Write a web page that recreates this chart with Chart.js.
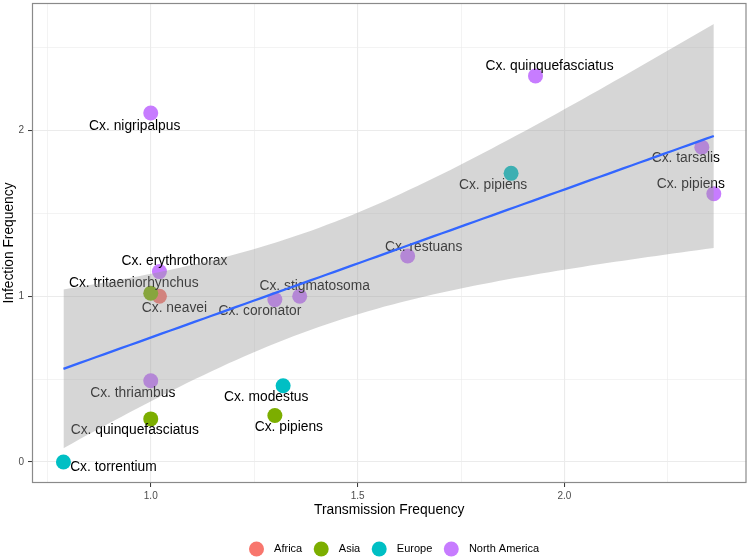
<!DOCTYPE html>
<html>
<head>
<meta charset="utf-8">
<script src="https://cdn.jsdelivr.net/npm/chart.js@4/dist/chart.umd.min.js"></script>
<style>
  html, body { margin: 0; padding: 0; background: #ffffff; }
  #wrap { width: 749px; height: 559px; position: relative; }
</style>
</head>
<body>
<div id="wrap"><canvas id="c" width="749" height="559"></canvas></div>
<script>
// ---------------- DATA ----------------
const species = [
  'Cx. neavei', 'Cx. tritaeniorhynchus', 'Cx. quinquefasciatus', 'Cx. pipiens',
  'Cx. torrentium', 'Cx. modestus', 'Cx. pipiens',
  'Cx. nigripalpus', 'Cx. quinquefasciatus', 'Cx. tarsalis', 'Cx. pipiens',
  'Cx. restuans', 'Cx. erythrothorax', 'Cx. coronator', 'Cx. stigmatosoma', 'Cx. thriambus'
];
const region = [
  'Africa', 'Asia', 'Asia', 'Asia',
  'Europe', 'Europe', 'Europe',
  'North America', 'North America', 'North America', 'North America',
  'North America', 'North America', 'North America', 'North America', 'North America'
];
const transmission = [1.021, 1.000, 1.000, 1.300, 0.789, 1.320, 1.871, 1.000, 1.930, 2.332, 2.361, 1.621, 1.021, 1.300, 1.360, 1.000];
const infection    = [1.000, 1.018, 0.260, 0.280, 0.000, 0.460, 1.742, 2.106, 2.330, 1.900, 1.619, 1.243, 1.149, 0.980, 1.000, 0.490];

const regions = ['Africa', 'Asia', 'Europe', 'North America'];
const regionColors = ['#F8766D', '#7CAE00', '#00BFC4', '#C77CFF'];

const xTickValues = [1.0, 1.5, 2.0];
const xTickLabels = ['1.0', '1.5', '2.0'];
const yTickValues = [0, 1, 2];
const yTickLabels = ['0', '1', '2'];
const xMinorValues = [0.75, 1.25, 1.75, 2.25];
const yMinorValues = [0.5, 1.5, 2.5];

// label placement (pixel offset of label centre from its point)
const labelOffsets = [
  [15, 12], [-17, -10], [-16, 11], [14, 12],
  [50, 5], [-17, 11], [-18, 12],
  [-16, 13], [14, -10], [-16, 11], [-23, -10],
  [16, -9], [15, -10], [-15, 12], [15, -10], [-18, 12]
];

// ---------------- linear fit with 95% confidence band (lm) ----------------
const n = transmission.length;
const mx = transmission.reduce((a, b) => a + b, 0) / n;
const my = infection.reduce((a, b) => a + b, 0) / n;
let sxx = 0, sxy = 0;
for (let i = 0; i < n; i++) {
  sxx += (transmission[i] - mx) ** 2;
  sxy += (transmission[i] - mx) * (infection[i] - my);
}
const slope = sxy / sxx;
const intercept = my - slope * mx;
let sse = 0;
for (let i = 0; i < n; i++) sse += (infection[i] - (intercept + slope * transmission[i])) ** 2;
const sRes = Math.sqrt(sse / (n - 2));
const T_CRIT = 2.1448; // Student t, 97.5% quantile, n - 2 = 14 df
const xLo = Math.min(...transmission), xHi = Math.max(...transmission);
const fitLine = [], bandUpper = [], bandLower = [];
for (let k = 0; k < 80; k++) {
  const x = xLo + (xHi - xLo) * k / 79;
  const yh = intercept + slope * x;
  const se = sRes * Math.sqrt(1 / n + (x - mx) ** 2 / sxx);
  fitLine.push({ x, y: yh });
  bandUpper.push({ x, y: yh + T_CRIT * se });
  bandLower.push({ x, y: yh - T_CRIT * se });
}

// ---------------- chart ----------------
const FONT = "'Liberation Sans', Arial, Helvetica, sans-serif";
Chart.defaults.font.family = FONT;

const pointData = transmission.map((x, i) => ({ x, y: infection[i] }));
const pointColors = region.map(r => regionColors[regions.indexOf(r)]);

const labelsPlugin = {
  id: 'pointLabels',
  afterDatasetDraw(chart, args) {
    if (args.index !== 0) return;
    const ctx = chart.ctx;
    const meta = chart.getDatasetMeta(0);
    ctx.save();
    ctx.font = '13.8px ' + FONT;
    ctx.fillStyle = '#000000';
    ctx.textAlign = 'center';
    ctx.textBaseline = 'middle';
    meta.data.forEach((el, i) => {
      const o = labelOffsets[i];
      ctx.fillText(species[i], el.x + o[0], el.y + o[1]);
    });
    ctx.restore();
  }
};

const frameLegendPlugin = {
  id: 'frameLegend',
  afterDraw(chart) {
    const ctx = chart.ctx;
    const a = chart.chartArea;
    ctx.save();
    ctx.strokeStyle = '#8a8a8a';
    ctx.lineWidth = 1.2;
    ctx.strokeRect(a.left + 0.5, a.top + 0.5, a.right - a.left - 1, a.bottom - a.top - 1);
    // legend
    ctx.font = '11px ' + FONT;
    ctx.textBaseline = 'middle';
    ctx.textAlign = 'left';
    let x = 249;
    const yc = 549;
    regions.forEach((r, i) => {
      ctx.fillStyle = regionColors[i];
      ctx.beginPath();
      ctx.arc(x + 7.5, yc, 7.5, 0, Math.PI * 2);
      ctx.fill();
      ctx.fillStyle = '#000000';
      const tx = x + 7.5 + 17.6;
      ctx.fillText(r, tx, yc);
      x = tx + ctx.measureText(r).width + 11.5;
    });
    ctx.restore();
  }
};

function gridColor(ctx) { return '#EBEBEB'; }
function zeroPad(s) { s.paddingLeft = 0; s.paddingRight = 0; s.paddingTop = 0; s.paddingBottom = 0; }

new Chart(document.getElementById('c'), {
  type: 'scatter',
  data: {
    datasets: [
      {
        label: 'points',
        data: pointData,
        backgroundColor: pointColors,
        pointBackgroundColor: pointColors,
        pointBorderWidth: 0,
        pointRadius: 7.5,
        pointHoverRadius: 7.5,
        order: 4
      },
      {
        type: 'line', label: 'upper', data: bandUpper,
        borderWidth: 0, pointRadius: 0, fill: false, order: 3,
        borderColor: 'rgba(0,0,0,0)'
      },
      {
        type: 'line', label: 'lower', data: bandLower,
        borderWidth: 0, pointRadius: 0, fill: '-1', order: 2,
        borderColor: 'rgba(0,0,0,0)',
        backgroundColor: 'rgba(153,153,153,0.4)'
      },
      {
        type: 'line', label: 'fit', data: fitLine,
        borderWidth: 2.3, borderColor: '#3366FF', pointRadius: 0, fill: false, order: 1
      }
    ]
  },
  options: {
    responsive: false,
    animation: false,
    devicePixelRatio: 1,
    layout: { autoPadding: false, padding: { left: 0, right: 2.5, top: 3, bottom: 0 } },
    plugins: {
      legend: { display: false },
      tooltip: { enabled: false }
    },
    scales: {
      x: {
        type: 'linear',
        min: 0.713, max: 2.44,
        afterBuildTicks: s => { s.ticks = xMinorValues.concat(xTickValues).sort((a, b) => a - b).map(v => ({ value: v })); },
        afterFit: s => { s.height = 76; zeroPad(s); },
        border: { display: false },
        grid: {
          color: gridColor,
          lineWidth: c => (c.tick && xTickValues.includes(c.tick.value)) ? 1.1 : 0.6,
          tickColor: c => (c.tick && xTickValues.includes(c.tick.value)) ? '#333333' : 'rgba(0,0,0,0)',
          tickLength: 4,
          tickWidth: 1
        },
        ticks: {
          autoSkip: false, maxRotation: 0, padding: 3,
          color: '#4D4D4D', font: { size: 10 },
          callback: v => { const i = xTickValues.indexOf(v); return i >= 0 ? xTickLabels[i] : ''; }
        },
        title: {
          display: true, text: 'Transmission Frequency', color: '#000000',
          font: { size: 13.8 }, padding: { top: 0, bottom: 41 }
        }
      },
      y: {
        type: 'linear',
        min: -0.127, max: 2.77,
        afterBuildTicks: s => { s.ticks = yMinorValues.concat(yTickValues).sort((a, b) => a - b).map(v => ({ value: v })); },
        afterFit: s => { s.width = 32; zeroPad(s); },
        border: { display: false },
        grid: {
          color: gridColor,
          lineWidth: c => (c.tick && yTickValues.includes(c.tick.value)) ? 1.1 : 0.6,
          tickColor: c => (c.tick && yTickValues.includes(c.tick.value)) ? '#333333' : 'rgba(0,0,0,0)',
          tickLength: 4,
          tickWidth: 1
        },
        ticks: {
          autoSkip: false, padding: 4,
          color: '#4D4D4D', font: { size: 10 },
          callback: v => { const i = yTickValues.indexOf(v); return i >= 0 ? yTickLabels[i] : ''; }
        },
        title: {
          display: true, text: 'Infection Frequency', color: '#000000',
          font: { size: 13.8 }, padding: { top: 1, bottom: 0 }
        }
      }
    }
  },
  plugins: [labelsPlugin, frameLegendPlugin]
});
</script>
</body>
</html>
